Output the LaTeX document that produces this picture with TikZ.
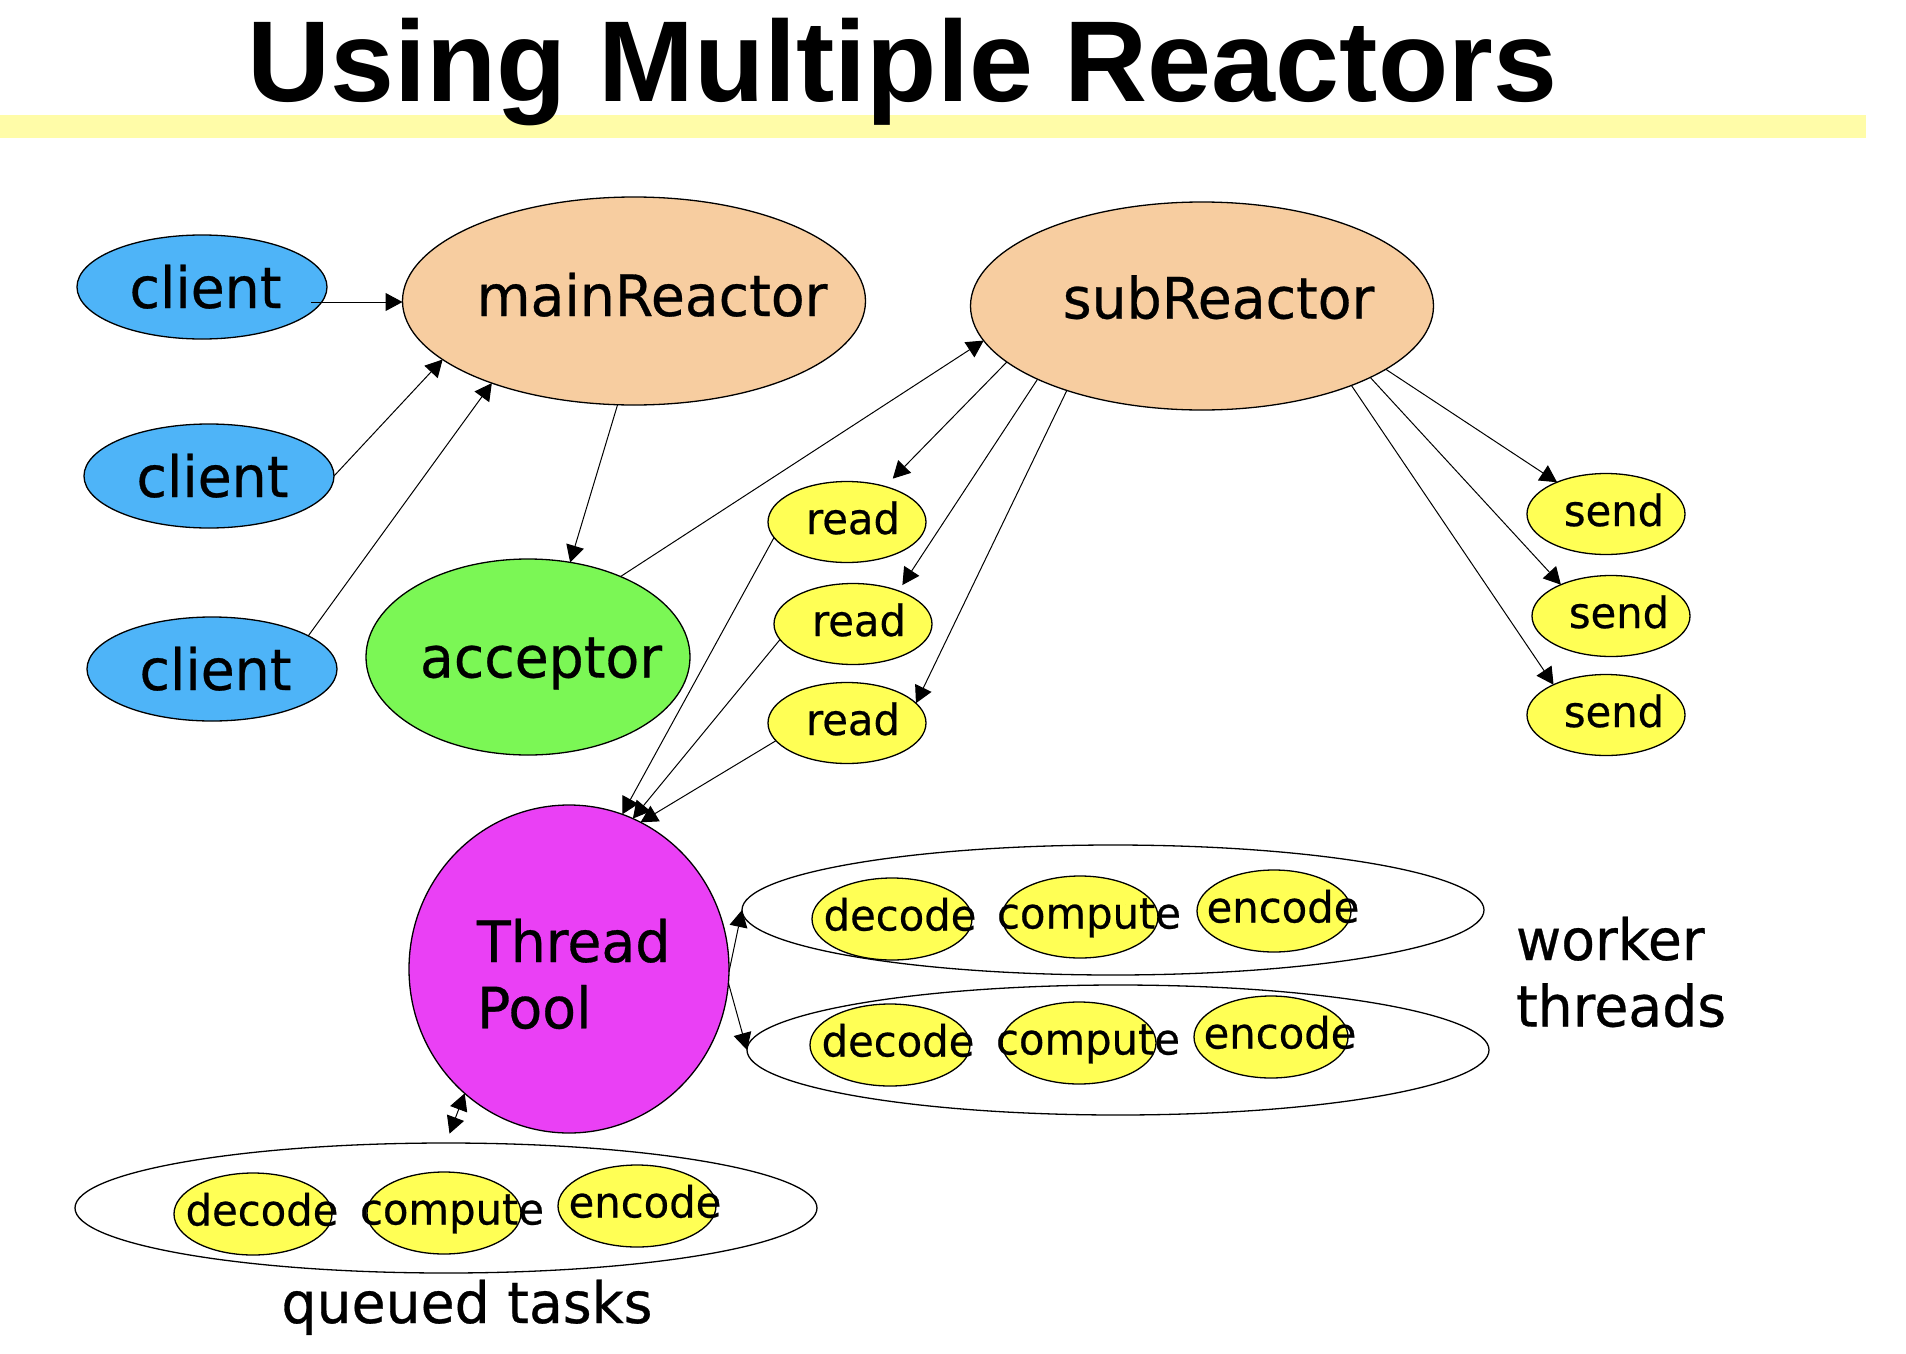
\documentclass[tikz,border=0pt]{standalone}
\usepackage{fontspec}
\setmainfont{DejaVu Sans}[FakeStretch=0.97,FakeBold=0.5]
\newfontfamily\titlefont{Liberation Sans}
\usetikzlibrary{shapes.geometric,arrows.meta}
\definecolor{barY}{HTML}{FFFCA8}
\definecolor{cblue}{HTML}{4EB4F8}
\definecolor{peach}{HTML}{F7CDA0}
\definecolor{lgreen}{HTML}{7BF755}
\definecolor{yel}{HTML}{FFFF55}
\definecolor{mag}{HTML}{EA40F5}
\newcommand\lbl[3]{\makebox[0pt]{\hspace*{#1}\raisebox{#2}{#3}}}
\begin{document}
\begin{tikzpicture}[x=1pt,y=-1pt,
  shp/.style={ellipse, draw=black, line width=1.3pt, inner sep=0pt, outer sep=0pt, text height=0pt, text depth=0pt},
  big/.style={shp, font=\fontsize{57}{57}\selectfont},
  small/.style={shp, font=\fontsize{43}{43}\selectfont},
  clientnode/.style={big, fill=cblue, minimum width=250pt, minimum height=104pt},
  reactor/.style={big, fill=peach, minimum width=463pt, minimum height=208pt},
  opnode/.style={small, fill=yel, minimum width=158pt, minimum height=81pt},
  tasknode/.style={small, fill=yel, minimum width=156pt, minimum height=82pt},
  grp/.style={shp, minimum width=742pt, minimum height=130pt},
  conn/.style={line width=1pt, -{Triangle[length=17pt,width=18pt]}},
  conntwo/.style={line width=1pt, {Triangle[length=17pt,width=18pt]}-{Triangle[length=17pt,width=18pt]}},
  plain/.style={inner sep=0pt, outer sep=0pt, font=\fontsize{57}{66.5}\selectfont}
]
\useasboundingbox (0,0) rectangle (1906,1354);
\fill[barY] (0,115) rectangle (1866,137.5);
\node[anchor=base west, inner sep=0pt, font=\titlefont\bfseries\fontsize{115}{115}\selectfont] (title) at (247,101) {Using Multiple Reactors};

% clients
\node[clientnode] (c1) at (202,287) {\lbl{7pt}{-21pt}{client}};
\node[clientnode] (c2) at (209,476) {\lbl{7pt}{-21pt}{client}};
\node[clientnode] (c3) at (212,669) {\lbl{7pt}{-21pt}{client}};

% reactors
\node[reactor] (mR) at (634,301) {\lbl{36pt}{-15pt}{mainReactor}};
\node[reactor] (sR) at (1202,306) {\lbl{33pt}{-12.5pt}{subReactor}};
\node[big, fill=lgreen, minimum width=324pt, minimum height=196pt] (acc) at (528,657) {\lbl{26pt}{-20.5pt}{acceptor}};

% read / send
\node[opnode] (r1) at (847,522) {\lbl{12pt}{-12pt}{read}};
\node[opnode] (r2) at (853,624) {\lbl{12pt}{-12pt}{read}};
\node[opnode] (r3) at (847,723) {\lbl{12pt}{-12pt}{read}};
\node[opnode] (s1) at (1606,514) {\lbl{16pt}{-12pt}{send}};
\node[opnode] (s2) at (1611,616) {\lbl{16pt}{-12pt}{send}};
\node[opnode] (s3) at (1606,715) {\lbl{16pt}{-12pt}{send}};

% thread pool
\node[big, fill=mag, minimum width=320pt, minimum height=328pt, font=\fontsize{57}{66.3}\selectfont] (TP) at (569,969)
  {\makebox[0pt][l]{\hspace*{-92pt}\raisebox{7pt}{\begin{tabular}[t]{@{}l@{}}Thread\\Pool\end{tabular}}}};

% worker thread groups
\node[grp] (g1) at (1113,910) {};
\node[grp] (g2) at (1118,1050) {};
\node[grp] (q) at (446,1208) {};

\node[tasknode, minimum width=160pt] (g1d) at (892,919) {\lbl{16pt}{-11.5pt}{decode}};
\node[tasknode] (g1c) at (1080,917) {\lbl{18pt}{-11.5pt}{compute}};
\node[tasknode, minimum width=154pt] (g1e) at (1274,911) {\lbl{18pt}{-11.5pt}{encode}};
\node[tasknode, minimum width=160pt] (g2d) at (890,1045) {\lbl{16pt}{-11.5pt}{decode}};
\node[tasknode, minimum width=154pt] (g2c) at (1079,1043) {\lbl{18pt}{-11.5pt}{compute}};
\node[tasknode, minimum width=154pt] (g2e) at (1271,1037) {\lbl{18pt}{-11.5pt}{encode}};
\node[tasknode, minimum width=158pt] (qd) at (253,1214) {\lbl{18pt}{-11.5pt}{decode}};
\node[tasknode, minimum width=154pt] (qc) at (444,1213) {\lbl{16pt}{-11.5pt}{compute}};
\node[tasknode, minimum width=158pt] (qe) at (637,1206) {\lbl{16pt}{-11.5pt}{encode}};

% labels
\node[plain, anchor=base west] (wt) at (1516,960) {\begin{tabular}[t]{@{}l@{}}worker\\threads\end{tabular}};
\node[plain, anchor=base] (qt) at (467,1323) {queued tasks};

% connectors
\draw[conn] ([xshift=-16pt,yshift=-15pt]c1.east) -- ([yshift=-1pt]mR.west);
\draw[conn] (c2.east) -- (mR.197);
\draw[conn] (c3.19) -- (mR.210);
\draw[conn] (mR.261) -- (acc.66);
\draw[conn] (acc.41) -- (sR.189);
\draw[conn, shorten >=11pt] (sR.196) -- (r1.43);
\draw[conn, shorten >=7pt] (sR.204) -- (r2.36);
\draw[conn] (sR.212) -- (r3.16);
\draw[conn] (sR.-19) -- (s1.147);
\draw[conn] (sR.-23) -- (s2.148);
\draw[conn] (sR.-28) -- (s3.150);
\draw[conn] (r1.192) -- (TP.71);
\draw[conn] (r2.192) -- (TP.67);
\draw[conn] (r3.194) -- (TP.64);
\draw[conn] (TP.-1) -- (g1.west);
\draw[conn] (TP.-5) -- (g2.west);
\draw[conntwo, shorten >=10pt] (TP.230) -- (q.north);
\end{tikzpicture}
\end{document}
